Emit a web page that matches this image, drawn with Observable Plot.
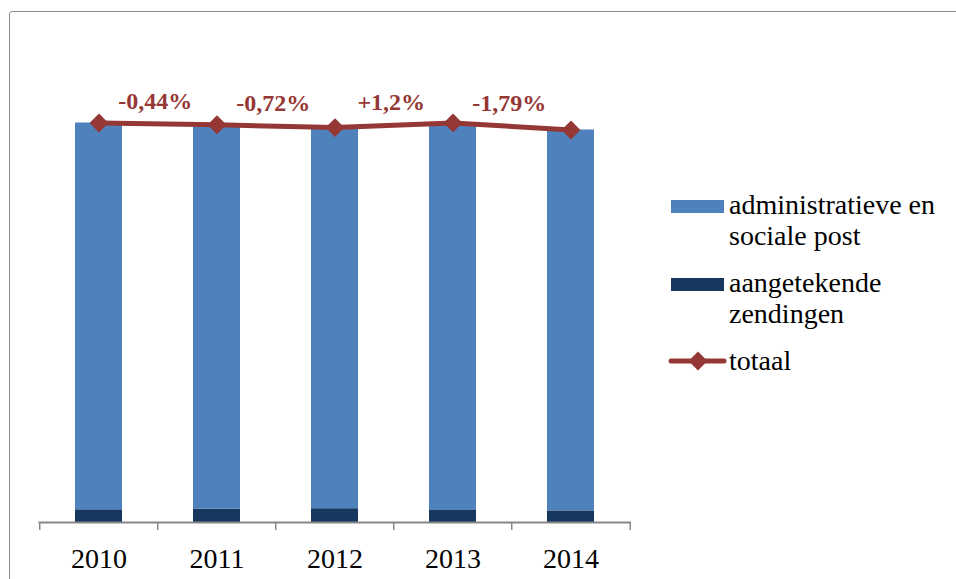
<!DOCTYPE html>
<html>
<head>
<meta charset="utf-8">
<script src="https://cdn.jsdelivr.net/npm/d3@7"></script>
<script src="https://cdn.jsdelivr.net/npm/@observablehq/plot@0.6"></script>
<style>
  html, body { margin: 0; padding: 0; background: #fff; overflow: hidden; }
  #wrap { position: relative; width: 956px; height: 579px; overflow: hidden; }
  #frame { position: absolute; left: 9px; top: 11px; width: 2000px; height: 2000px;
           border: 1.5px solid #8c8c8c; border-radius: 3px; pointer-events: none; z-index: 3; }
  #chart { position: absolute; left: 0; top: 0; }
  #legend { position: absolute; left: 0; top: 0; pointer-events: none; z-index: 2; }
  #legend text { font-family: 'Liberation Serif', 'Times New Roman', serif; }
</style>
</head>
<body>
<div id="wrap">
  <div id="chart"></div>
  <svg id="legend" width="956" height="579"></svg>
  <div id="frame"></div>
</div>
<script>
// ---- data ----
const years = ["2010", "2011", "2012", "2013", "2014"];
const administratieve = [386.8, 384.3, 381.1, 387.6, 380.9];
const aangetekende = [12.7, 13.4, 13.8, 12.0, 11.6];
const changeLabels = ["-0,44%", "-0,72%", "+1,2%", "-1,79%"];
const seriesNames = ["administratieve en sociale post", "aangetekende zendingen", "totaal"];
const legendLines = [["administratieve en", "sociale post"], ["aangetekende", "zendingen"], ["totaal"]];

// ---- derived tables ----
const rows = years.flatMap((y, i) => [
  {year: y, series: seriesNames[1], value: aangetekende[i]},
  {year: y, series: seriesNames[0], value: administratieve[i]}
]);
const totals = years.map((y, i) => ({year: y, total: administratieve[i] + aangetekende[i]}));
const changes = changeLabels.map((t, i) => ({
  year: years[i], label: t, y: (totals[i].total + totals[i + 1].total) / 2
}));

const RED = "#953735", BLUE = "#4F81BD", NAVY = "#17375E", AXIS = "#878787";
const SERIF = "'Liberation Serif', 'Times New Roman', serif";
const step = (956 - 325 - 38.5) / years.length;

const chart = Plot.plot({
  width: 956, height: 579,
  marginLeft: 38.5, marginRight: 325, marginTop: 22, marginBottom: 57,
  style: {background: "transparent", fontFamily: SERIF},
  x: {type: "band", domain: years, paddingInner: 0.6, paddingOuter: 0.3, axis: null},
  y: {domain: [0, 500], axis: null},
  color: {domain: [seriesNames[0], seriesNames[1]], range: [BLUE, NAVY]},
  marks: [
    Plot.barY(rows, {x: "year", y: "value", fill: "series"}),
    Plot.ruleY([0], {stroke: AXIS, strokeWidth: 2}),
    Plot.ruleX(years, {x: d => d, y1: 0, y2: -8, dx: -step / 2, stroke: AXIS, strokeWidth: 1.5}),
    Plot.ruleX([years[years.length - 1]], {x: d => d, y1: 0, y2: -8, dx: step / 2, stroke: AXIS, strokeWidth: 1.5}),
    Plot.text(years, {x: d => d, y: 0, dy: 45, text: d => d, lineAnchor: "bottom",
      fontSize: 28, fontFamily: SERIF, fill: "#000"}),
    Plot.line(totals, {x: "year", y: "total", stroke: RED, strokeWidth: 5}),
    Plot.dot(totals, {x: "year", y: "total", symbol: "diamond2", r: 8.5, fill: RED, stroke: "none"}),
    Plot.text(changes, {x: "year", y: "y", text: "label", dx: step / 2 - 3, dy: -23,
      fontSize: 24, fontWeight: "bold", fontFamily: SERIF, fill: RED})
  ]
});
document.getElementById("chart").appendChild(chart);

// ---- legend ----
const lg = d3.select("#legend");
const swatchColors = [BLUE, NAVY];
const groupBaseline = [214, 292, 370];
[0, 1].forEach(k => {
  lg.append("rect").attr("x", 671).attr("y", groupBaseline[k] - 14).attr("width", 53).attr("height", 13)
    .attr("fill", swatchColors[k]);
});
lg.append("line").attr("x1", 671).attr("x2", 724).attr("y1", 361).attr("y2", 361)
  .attr("stroke", RED).attr("stroke-width", 5).attr("stroke-linecap", "round");
lg.append("path").attr("d", d3.symbol(d3.symbolDiamond2, Math.PI * 8.5 * 8.5)())
  .attr("transform", "translate(698,361)").attr("fill", RED);
legendLines.forEach((lines, k) => {
  lines.forEach((t, j) => {
    lg.append("text").attr("x", 729).attr("y", groupBaseline[k] + j * 31)
      .attr("font-size", 28).attr("fill", "#000").text(t);
  });
});
</script>
</body>
</html>
